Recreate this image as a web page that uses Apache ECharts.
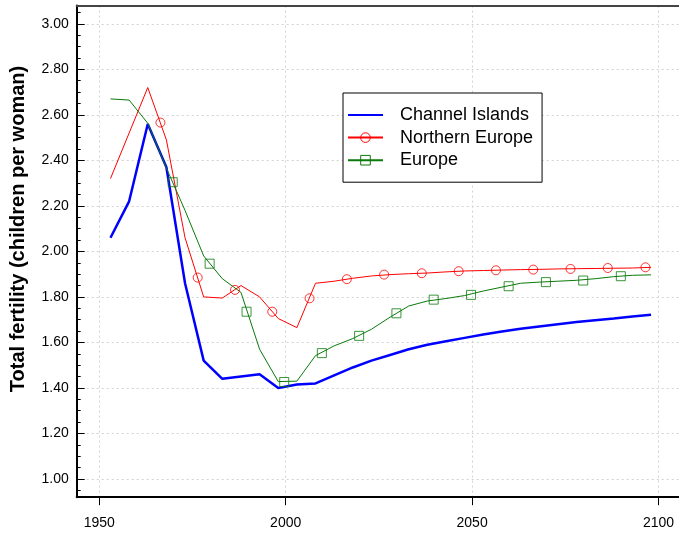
<!DOCTYPE html>
<html>
<head>
<meta charset="utf-8">
<script src="https://cdn.jsdelivr.net/npm/echarts@6/dist/echarts.min.js"></script>
<style>html,body{margin:0;padding:0;background:#fff}#c{width:679px;height:535px}</style>
</head>
<body>
<div id="c"></div>
<script>
const years = [1953,1958,1963,1968,1973,1978,1983,1988,1993,1998,2003,2008,2013,2018,2023,2028,2033,2038,2043,2048,2053,2058,2063,2068,2073,2078,2083,2088,2093,2098];
const channelIslands = [2.06,2.22,2.56,2.37,1.86,1.52,1.44,1.45,1.46,1.40,1.415,1.42,1.455,1.49,1.52,1.545,1.57,1.59,1.605,1.62,1.635,1.648,1.66,1.67,1.68,1.69,1.698,1.705,1.714,1.722];
const northernEurope = [2.32,2.52,2.72,2.49,2.06,1.80,1.795,1.85,1.80,1.705,1.665,1.86,1.869,1.882,1.892,1.898,1.902,1.905,1.91,1.914,1.916,1.918,1.92,1.921,1.923,1.924,1.925,1.926,1.927,1.93];
const europe = [2.67,2.665,2.563,2.366,2.18,1.98,1.88,1.82,1.57,1.428,1.43,1.542,1.585,1.617,1.658,1.711,1.76,1.782,1.793,1.806,1.826,1.843,1.86,1.865,1.869,1.873,1.88,1.889,1.895,1.897];

const northernMarkerYears = [1966.4,1976.4,1986.4,1996.4,2006.4,2016.4,2026.4,2036.5,2046.4,2056.4,2066.4,2076.4,2086.4,2096.5];
const northernMarkerValues = [2.566,1.885,1.831,1.735,1.794,1.878,1.898,1.904,1.913,1.917,1.920,1.923,1.927,1.930];
const europeMarkerYears = [1969.7,1979.6,1989.5,1999.6,2009.7,2019.7,2029.7,2039.7,2049.7,2059.8,2069.8,2079.8,2089.9];
const europeMarkerValues = [2.304,1.946,1.735,1.426,1.553,1.629,1.728,1.788,1.809,1.847,1.865,1.872,1.891];

const xTicks = [1950,2000,2050,2100];
const yMajorTicks = [1.00,1.20,1.40,1.60,1.80,2.00,2.20,2.40,2.60,2.80,3.00];
const yMinorTicks = [0.95,1.05,1.10,1.15,1.25,1.30,1.35,1.45,1.50,1.55,1.65,1.70,1.75,1.85,1.90,1.95,2.05,2.10,2.15,2.25,2.30,2.35,2.45,2.50,2.55,2.65,2.70,2.75,2.85,2.90,2.95,3.05];
const yTitle = 'Total fertility (children per woman)';

const FONT = "'Liberation Sans', Arial, sans-serif";
const zip = (xs, ys) => xs.map((x, i) => [x, ys[i]]);

const chart = echarts.init(document.getElementById('c'), null, {renderer: 'canvas'});
const X_MIN = 1943.94, X_MAX = 2105.5, Y_MIN = 0.92, Y_MAX = 3.08;
chart.setOption({
  animation: false,
  backgroundColor: '#fff',
  grid: {left: 76.7, right: 0, top: 5.6, bottom: 37.8, containLabel: false},
  xAxis: [{
    type: 'value', min: X_MIN, max: X_MAX, position: 'bottom',
    axisLine: {show: true, lineStyle: {color: '#000', width: 2}},
    axisTick: {show: true, inside: false, length: 8, customValues: xTicks, lineStyle: {color: '#000', width: 1}},
    axisLabel: {customValues: xTicks, margin: 19, fontSize: 14, color: '#000', fontFamily: FONT, formatter: v => String(v)},
    splitLine: {show: true, lineStyle: {color: '#d2d2d2', type: [2, 3], width: 1}}
  }, {
    type: 'value', min: X_MIN, max: X_MAX, position: 'top',
    axisLine: {show: true, lineStyle: {color: '#444', width: 2}},
    axisTick: {show: false}, axisLabel: {show: false}, splitLine: {show: false}
  }],
  yAxis: [{
    type: 'value', min: Y_MIN, max: Y_MAX, position: 'left',
    axisLine: {show: true, lineStyle: {color: '#000', width: 2}},
    axisTick: {show: true, inside: true, length: 8, customValues: yMajorTicks, lineStyle: {color: '#000', width: 1}},
    axisLabel: {customValues: yMajorTicks, margin: 8, fontSize: 14, color: '#000', fontFamily: FONT, formatter: v => v.toFixed(2)},
    splitLine: {show: true, lineStyle: {color: '#d2d2d2', type: [2, 3], width: 1}}
  }, {
    type: 'value', min: Y_MIN, max: Y_MAX, position: 'left',
    axisLine: {show: false},
    axisTick: {show: true, inside: true, length: 4, customValues: yMinorTicks, lineStyle: {color: '#000', width: 1}},
    axisLabel: {show: false}, splitLine: {show: false}
  }],
  legend: {
    orient: 'vertical', left: 343, top: 93,
    data: [
      {name: 'Channel Islands', itemStyle: {opacity: 0}},
      {name: 'Northern Europe', itemStyle: {color: 'rgba(255,255,255,0)', borderColor: '#ff0000', borderWidth: 1}},
      {name: 'Europe', itemStyle: {color: 'rgba(255,255,255,0)', borderColor: '#0a7a0a', borderWidth: 1}}
    ],
    itemWidth: 35, itemHeight: 12, itemGap: 0.6,
    textStyle: {fontSize: 18, fontFamily: FONT, color: '#000', lineHeight: 22, padding: [0, 0, 0, 12]},
    padding: [11, 9, 11, 4],
    borderColor: '#000', borderWidth: 1, backgroundColor: '#fff',
    selectedMode: false
  },
  graphic: [{
    type: 'text', x: 18, y: 229, rotation: Math.PI / 2,
    style: {text: yTitle, font: "bold 20px " + FONT, fill: '#000', textAlign: 'center', textVerticalAlign: 'middle'}
  }],
  series: [
    {name: 'Channel Islands', type: 'line', data: zip(years, channelIslands), symbol: 'none',
     lineStyle: {color: '#0000ff', width: 2.5}, itemStyle: {color: '#0000ff'}, z: 2},
    {name: 'Northern Europe', type: 'line', data: zip(years, northernEurope), symbol: 'circle', showSymbol: false,
     lineStyle: {color: '#ff0000', width: 1}, itemStyle: {color: '#ff0000'}, z: 3},
    {name: 'Europe', type: 'line', data: zip(years, europe), symbol: 'rect', showSymbol: false,
     lineStyle: {color: '#0a7a0a', width: 1}, itemStyle: {color: '#0a7a0a'}, z: 4},
    {name: 'Northern Europe markers', type: 'scatter', data: zip(northernMarkerYears, northernMarkerValues),
     symbol: 'circle', symbolSize: 9, itemStyle: {color: 'rgba(255,255,255,0)', borderColor: '#ff0000', borderWidth: 1}, z: 5},
    {name: 'Europe markers', type: 'scatter', data: zip(europeMarkerYears, europeMarkerValues),
     symbol: 'rect', symbolSize: 9, itemStyle: {color: 'rgba(255,255,255,0)', borderColor: '#0a7a0a', borderWidth: 1}, z: 5}
  ]
});
</script>
</body>
</html>
